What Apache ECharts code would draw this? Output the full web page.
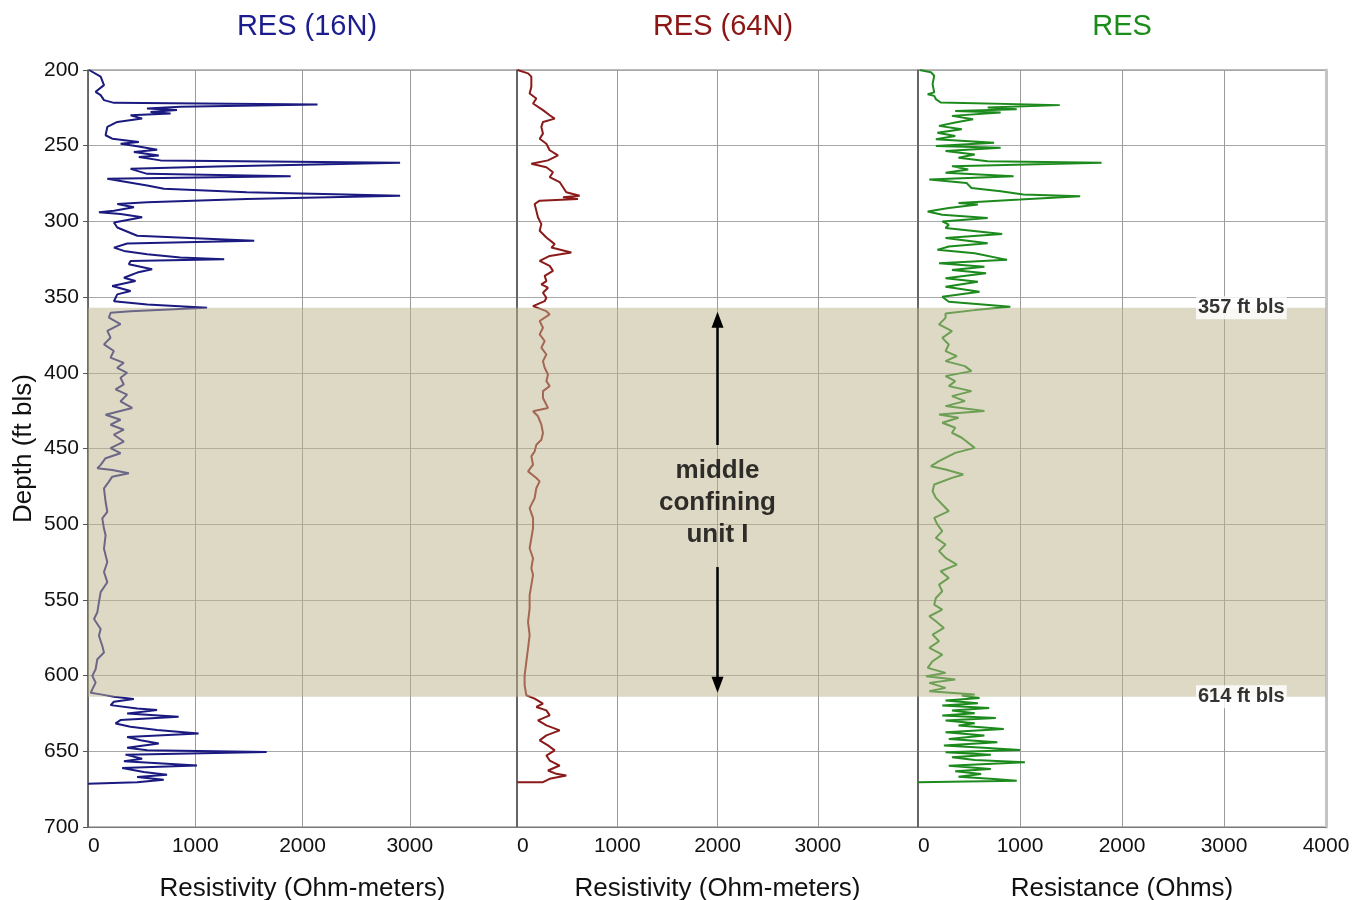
<!DOCTYPE html>
<html lang="en">

<head>
  <meta charset="UTF-8" />
  <title>Resistivity logs</title>
  <script src="https://cdn.jsdelivr.net/npm/echarts@6/dist/echarts.min.js"></script>
</head>

<body style="margin: 0; overflow: hidden; background: #fff;">
  <div id="panel" style="width: 1357px; height: 900px;"></div>
  <script>
    // RES (16N), resistivity in ohm-m vs depth (ft bls)
    var res16Depth = [200, 204.4, 210, 214.4, 216.6, 219.9, 221.7, 222.8, 224.3, 225.4, 226.5, 227.7, 228.8, 229.9, 232.1, 234.3,
      237.6, 243.1, 245.4, 247.6, 248.7, 250.4, 252.7, 254.2, 256.4, 257.5, 259.7, 261.3, 263.7, 265.3, 268.6, 270.1, 271.2, 271.9,
      276.3, 278.5, 280.8, 283, 285.2, 287.4, 288.5, 290.7, 292.9, 294, 295.1, 297.3, 300.7, 304, 309.5, 312.8, 314.6, 317.3, 319.5,
      321.7, 323.9, 325, 326.1, 328.3, 331.6, 333.8, 337.2, 339.4, 342.7, 346, 348.2, 352.7, 354.9, 357.1, 359.3, 360.4,
      363.5, 367.9, 372.3, 376.8, 381.2, 385.6, 390, 393.4, 396.7, 400, 403.3, 407.7, 411, 414.4, 418.8, 423.2, 427.7, 431, 434.3,
      437.6, 440.9, 445.4, 449.8, 453.1, 456.4, 460.8, 463, 464.2, 466.4, 468.6, 471.9, 476.3, 485.2, 491.8, 496.2, 502.9, 507.3,
      516.2, 525, 531.6, 538.3, 544.9, 551.5, 558.2, 562.6, 569.2, 573.7, 580.3, 584.7, 589.2, 595.8, 600.2, 604.6, 609.1, 611.3,
      612.4, 614, 615.5, 617.3, 619.5, 621.7, 622.8, 625, 627.2, 629.4, 631.6, 633.8, 636, 638.3, 640.5, 642.7, 644.9, 647.6, 649.3,
      650.4, 652.2, 654.9, 656.6, 659.3, 661, 663.7, 665.5, 667, 668.8, 670.4, 671.5];
    var res16Value = [10, 118, 149, 71, 118, 149, 242, 2140, 860, 550, 830, 583, 770, 397, 505, 273,
      180, 164, 226, 474, 304, 459, 645, 428, 660, 474, 676, 2910, 1200, 397, 552, 1890, 860, 180,
      552, 707, 1480, 2910, 1480, 552, 273, 428, 242, 102, 304, 505, 242, 273, 459, 1550, 366, 242, 335,
      552, 860, 1270, 397, 381, 598, 459, 335, 443, 226, 397, 273, 242, 552, 1110, 397, 211,
      195, 303, 180, 210, 149, 241, 210, 334, 272, 365, 303, 334, 257, 365, 303, 412, 164, 303, 210,
      334, 241, 334, 210, 303, 164, 118, 87, 226, 381, 226, 195, 149, 164, 180, 133, 149, 164,
      149, 180, 149, 180, 118, 102, 87, 56, 118, 102, 133, 149, 87, 71, 40, 71, 40, 25,
      118, 242, 427, 241, 211, 458, 644, 365, 845, 303, 257, 396, 644, 1031, 365, 490, 660, 365, 552,
      1666, 350, 505, 335, 1016, 319, 520, 737, 458, 706, 458, 0];

    // RES (64N), resistivity in ohm-m
    var res64Depth = [200, 201.1, 202.2, 204.4, 211, 215.5, 218.8, 222.1, 226.5, 229.9, 232.1, 234.3, 237.6, 242, 245.4, 248.7,
      253, 256.4, 259.7, 261.9, 264.2, 267.5, 270.8, 274, 277.4, 280.8, 283, 284.1, 285.2, 286.3, 288.5, 292.9, 297.3, 301.8,
      306.2, 310.6, 315, 317.3, 320.6, 322.8, 326.1, 329.4, 332.7, 336, 339.4, 341.6, 343.8, 347.1, 350.4, 352.7, 356, 359.3,
      361.4, 365.8, 370.2, 374.6, 379, 383.4, 387.9, 392.3, 396.7, 401.1, 405.5, 408.8, 412.1, 416.6, 423.2, 425.4, 428.7, 434.2,
      439.7, 444.2, 447.5, 451.9, 455.2, 460.7, 465.1, 469.5, 471.7, 476.1, 482.8, 489.4, 496, 502.6, 509.3, 515.9, 522.5, 529.1,
      533.6, 540.2, 546.8, 555.6, 564.5, 573.3, 582.1, 591, 599.8, 606.4, 613, 615.2, 618.5, 620.7, 623, 626.3, 629.6, 632.9,
      636.2, 639.5, 642.8, 646.1, 649.4, 652.8, 656.1, 659.4, 662.7, 664.9, 666, 668.2, 670.4, 670.5];
    var res64Value = [5, 20, 110, 143, 143, 126, 193, 160, 259, 326, 376, 259, 243, 259, 226, 293,
      326, 409, 309, 143, 293, 359, 326, 425, 459, 492, 625, 459, 608, 226, 176, 193, 209, 243,
      226, 293, 376, 343, 542, 326, 226, 326, 359, 276, 293, 243, 309, 259, 293, 276, 160, 293,
      326, 226, 259, 226, 276, 243, 293, 259, 276, 309, 293, 326, 259, 259, 309, 160, 209, 243,
      259, 243, 193, 176, 143, 160, 110, 193, 226, 193, 176, 126, 160, 160, 143, 126, 160, 143,
      160, 143, 126, 126, 110, 126, 110, 93, 76, 76, 93, 176, 259, 193, 293, 326, 209, 293,
      426, 293, 226, 309, 376, 293, 326, 426, 309, 392, 492, 326, 259, 0];

    // RES, resistance in ohms
    var resDepth = [200, 201.5, 203.8, 209.3, 214.8, 216, 217.1, 219.2, 221.5, 223.2, 224.8, 226, 227, 228, 230.3, 232.5,
      234.7, 236.9, 239.2, 241.4, 243.6, 245.8, 248, 250.2, 251.3, 253.5, 255.8, 258, 260.2, 261.3, 263.5, 265.7, 267.9, 270.1,
      272.3, 274.6, 277.9, 280.1, 282.3, 283.4, 285.6, 287.8, 288.9, 291.2, 293.4, 295.6, 297.8, 300, 302.2, 304.4, 308.4, 311,
      314.4, 316.6, 318.8, 321, 325.4, 327.7, 329.9, 332.1, 334.3, 337.6, 339.8, 343.1, 346.5, 349.8, 353.1, 356.4, 358.6, 360.8,
      363.7, 368, 372.5, 376.9, 381.3, 385.7, 389, 392.3, 395.6, 398.9, 402.2, 405.5, 408.8, 412.1, 415.4, 418.7, 422, 425.3,
      427.5, 429.7, 433, 436.3, 439.6, 442.9, 449.6, 452.9, 455.1, 458.4, 461.7, 463.9, 467.2, 469.4, 473.8, 478.2, 482.6, 487,
      491.4, 495.8, 500.2, 504.6, 509, 513.4, 517.8, 522.2, 526.7, 531.1, 535.5, 539.9, 544.3, 548.7, 553.1, 556.4, 560.8, 564.1,
      568.5, 572.9, 577.3, 581.7, 586.1, 590.5, 594.9, 598.2, 600.4, 602.6, 604.8, 608.1, 610.3, 612.5,
      613.2, 614.8, 616.5, 618.3, 619.8, 621.4, 623.1, 624.9, 626.4, 628, 629.7, 631.5, 633, 635.2, 637.4, 639.6, 641.9, 644,
      646.2, 647.8, 649.1, 650.7, 652.2, 654, 655.7, 657.3, 659.5, 661.7, 663.2, 665, 666.8, 668.3, 669.4, 670.5];
    var resValue = [16, 127, 159, 143, 159, 95, 159, 175, 222, 1390, 683, 968, 365, 810, 333, 540,
      365, 206, 429, 190, 365, 175, 746, 175, 810, 270, 556, 397, 683, 1800, 333, 492, 270, 937,
      111, 476, 524, 810, 1032, 1590, 1000, 397, 587, 302, 95, 238, 683, 238, 302, 270, 825, 270,
      683, 302, 190, 556, 873, 206, 651, 333, 667, 270, 587, 270, 603, 238, 302, 905, 556, 270,
      270, 206, 333, 238, 302, 270, 381, 270, 460, 524, 270, 365, 302, 524, 333, 460, 270, 651,
      206, 397, 238, 365, 333, 429, 556, 365, 302, 206, 127, 270, 444, 333, 159, 143, 175, 238,
      302, 159, 190, 238, 175, 270, 206, 270, 381, 222, 302, 206, 238, 175, 159, 238, 111, 175,
      254, 143, 206, 111, 238, 143, 95, 270, 79, 365, 111, 270, 111, 556,
      429, 603, 270, 587, 238, 698, 333, 556, 238, 762, 270, 556, 397, 841, 270, 651, 302, 778,
      254, 683, 1000, 270, 714, 333, 556, 1048, 302, 714, 365, 619, 397, 746, 968, 0];

    var panelTitles = ['RES (16N)', 'RES (64N)', 'RES'];
    var axisNames = ['Resistivity (Ohm-meters)', 'Resistivity (Ohm-meters)', 'Resistance (Ohms)'];
    var unitTop = 357;
    var unitBottom = 614;

    var font = '"Liberation Sans", Arial, sans-serif';
    var lineColors = ['#1a1a80', '#8b1a1a', '#1c8a1c'];
    var titleColors = ['#1c1c8f', '#8c1515', '#1a8c1a'];

    function zip(d, v) {
      return d.map(function (depth, i) { return [v[i], depth]; });
    }

    var grids = [
      { left: 88, top: 70, width: 429, height: 757 },
      { left: 517, top: 70, width: 401, height: 757 },
      { left: 918, top: 70, width: 408, height: 757 }
    ];
    grids.forEach(function (g) {
      g.show = true;
      g.borderColor = '#777';
      g.borderWidth = 1;
      g.containLabel = false;
      g.outerBoundsMode = 'none';
    });

    var xAxes = grids.map(function (g, i) {
      return {
        type: 'value', gridIndex: i, min: 0, max: 4000, interval: 1000,
        name: axisNames[i], nameLocation: 'middle', nameGap: 49,
        nameTextStyle: { fontFamily: font, fontSize: 26, color: '#111' },
        axisLine: { show: true, lineStyle: { color: '#777', width: 1 } },
        axisTick: { show: false },
        axisLabel: {
          fontFamily: font, fontSize: 21, color: '#111', margin: 9,
          showMaxLabel: i === 2, alignMinLabel: 'left',
          formatter: function (v) { return String(v); }
        },
        splitLine: { show: true, lineStyle: { color: '#9a9a9a', width: 1 } }
      };
    });

    var yAxes = grids.map(function (g, i) {
      return {
        type: 'value', gridIndex: i, inverse: true, min: 200, max: 700, interval: 50,
        name: i === 0 ? 'Depth (ft bls)' : '', nameLocation: 'middle', nameGap: 51,
        nameTextStyle: { fontFamily: font, fontSize: 26, color: '#111' },
        axisLine: { show: true, lineStyle: { color: '#555', width: 1.5 } },
        axisTick: { show: i === 0, length: 5, lineStyle: { color: '#555' } },
        axisLabel: { show: i === 0, fontFamily: font, fontSize: 21, color: '#111', margin: 9 },
        splitLine: { show: true, lineStyle: { color: '#a8a8a8', width: 1 } }
      };
    });
    // light grey right border of the last track
    yAxes.push({
      type: 'value', gridIndex: 2, position: 'right', inverse: true, min: 200, max: 700, interval: 50,
      axisLine: { show: true, lineStyle: { color: '#c4c4c4', width: 3 } },
      axisTick: { show: false }, axisLabel: { show: false }, splitLine: { show: false }
    });

    var logs = [zip(res16Depth, res16Value), zip(res64Depth, res64Value), zip(resDepth, resValue)];

    var series = [];
    logs.forEach(function (data, i) {
      series.push({
        type: 'line', xAxisIndex: i, yAxisIndex: i, data: data,
        showSymbol: false, symbol: 'none', smooth: false, z: 2,
        lineStyle: { color: lineColors[i], width: 2 },
        markArea: {
          silent: true, z: 10,
          itemStyle: { color: 'rgba(190, 180, 140, 0.5)' },
          data: [[{ yAxis: unitTop }, { yAxis: unitBottom }]]
        }
      });
    });

    // arrows and text for the confining unit
    series.push({
      type: 'scatter', xAxisIndex: 1, yAxisIndex: 1, z: 30, symbolSize: 0,
      data: [[2000, 486]],
      label: {
        show: true, position: 'inside', formatter: 'middle\nconfining\nunit I',
        fontFamily: font, fontSize: 26, fontWeight: 'bold', color: '#000', lineHeight: 32
      },
      markLine: {
        silent: true, z: 30, symbol: ['none', 'triangle'], symbolSize: [12, 16],
        label: { show: false },
        itemStyle: { color: '#000' },
        lineStyle: { color: '#000', width: 2.5, type: 'solid' },
        data: [
          [{ coord: [2000, 447.7] }, { coord: [2000, 365] }],
          [{ coord: [2000, 528.3] }, { coord: [2000, 606] }]
        ]
      }
    });

    // depth tags at the right side
    series.push({
      type: 'scatter', xAxisIndex: 2, yAxisIndex: 2, z: 30, symbolSize: 0,
      data: [[3170, unitTop], [3170, unitBottom]],
      label: {
        show: true, position: 'inside',
        formatter: function (p) { return p.value[1] + ' ft bls'; },
        fontFamily: font, fontSize: 20, fontWeight: 'bold', color: '#000',
        backgroundColor: '#fff', padding: [2, 2, 1, 2]
      }
    });

    var myChart = echarts.init(document.getElementById('panel'), null, { renderer: 'canvas' });
    myChart.setOption({
      animation: false,
      backgroundColor: '#fff',
      title: panelTitles.map(function (t, i) {
        return {
          text: t, left: [302, 718, 1117][i], top: 7, textAlign: 'center',
          textStyle: { fontFamily: font, fontSize: 29, fontWeight: 'normal', color: titleColors[i] }
        };
      }),
      grid: grids,
      xAxis: xAxes,
      yAxis: yAxes,
      series: series
    });

    window.addEventListener('resize', function () {
      myChart.resize();
    });
  </script>
</body>

</html>
